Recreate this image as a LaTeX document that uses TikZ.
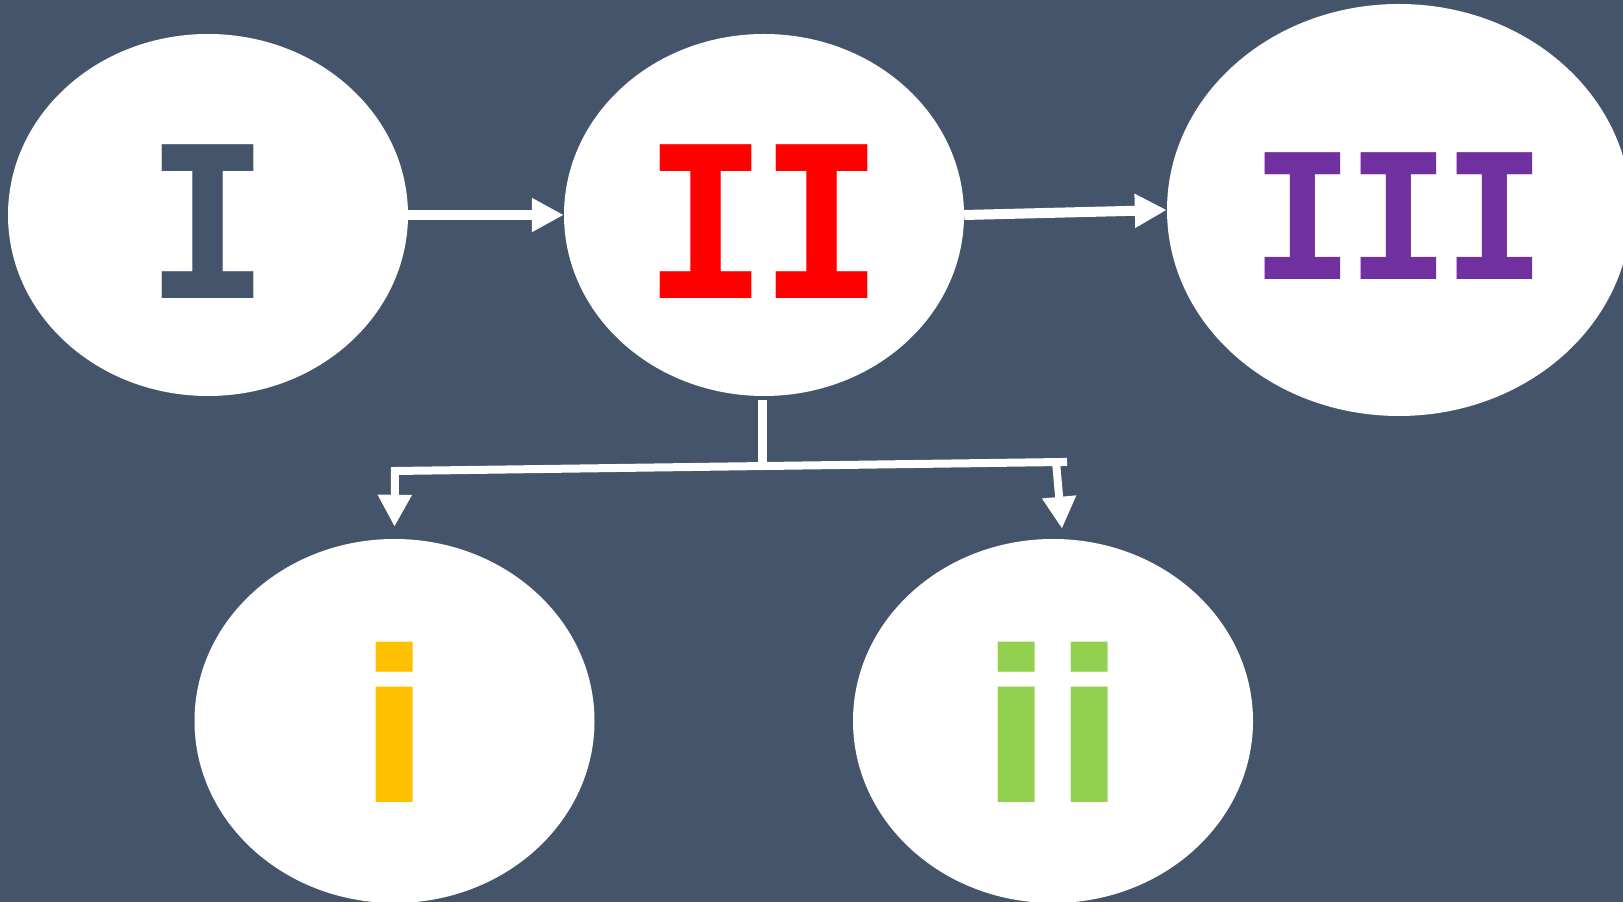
\documentclass[tikz,border=0pt]{standalone}
\usepackage{fontspec}
\usepackage{tikz}
\usepackage{xcolor}
\usetikzlibrary{shapes.geometric,arrows.meta}

\newfontfamily\capsfont{DejaVu Sans Mono}
\newfontfamily\smallfont{DejaVu Sans}

\definecolor{slate}{HTML}{44546A}
\definecolor{numred}{HTML}{FF0000}
\definecolor{numpurple}{HTML}{7030A0}
\definecolor{numyellow}{HTML}{FFC000}
\definecolor{numgreen}{HTML}{92D050}

\tikzset{
  blob/.style={ellipse,fill=white,inner sep=0pt,text depth=0pt,
    minimum width=400pt,minimum height=362pt},
  bigcaps/.style={font=\capsfont\bfseries\fontsize{211pt}{211pt}\selectfont,text height=168pt},
  midcaps/.style={font=\capsfont\bfseries\fontsize{174pt}{174pt}\selectfont,text height=139pt},
  smallcaps/.style={font=\smallfont\bfseries\fontsize{211pt}{211pt}\selectfont,text height=163pt},
  arr/.style={draw=white,line width=10pt,-{Triangle[length=32pt,width=32pt]}},
  link/.style={draw=white,line width=8pt,line cap=rect},
  drop/.style={draw=white,line width=8pt,-{Triangle[length=32pt,width=32pt]}}
}

\begin{document}
\begin{tikzpicture}[x=1pt,y=1pt]
    % Background
    \useasboundingbox (0,0) rectangle (1623,902);
    \clip (0,0) rectangle (1623,902);
    \fill [slate] (0,0) rectangle (1623,902);

    % Upper row
    \node [blob,bigcaps,text=slate] (I) at (208,687) {I};
    \node [blob,bigcaps,text=numred] (II) at (764,687) {I\hspace{-12pt}I};
    \node [blob,midcaps,text=numpurple,minimum width=464pt,minimum height=412pt]
      (III) at (1399,692) {I\hspace{-9pt}I\hspace{-9pt}I};

    % Lower row
    \node [blob,smallcaps,text=numyellow,minimum height=364pt] (i) at (394.5,181) {i};
    \node [blob,smallcaps,text=numgreen,minimum height=364pt] (ii) at (1053,181) {ii};

    % Arrows along the top
    \draw [arr] (I.east) to (II.west);
    \draw [arr] (II.east) to (III.west);

    % Split below II
    \coordinate (fork) at (762,436);
    \coordinate (busL) at (395,431);
    \coordinate (busR) at (1063,440);
    \coordinate (dropR) at (1056,440);
    \draw [link,line width=9pt,line cap=butt] ([xshift=-2pt,yshift=-4pt]II.south) to (fork);
    \draw [link] (busL) to (busR);
    \draw [drop] (busL) to ([yshift=12pt]i.north);
    \draw [drop] (dropR) to ([xshift=9pt,yshift=10pt]ii.north);
\end{tikzpicture}
\end{document}
